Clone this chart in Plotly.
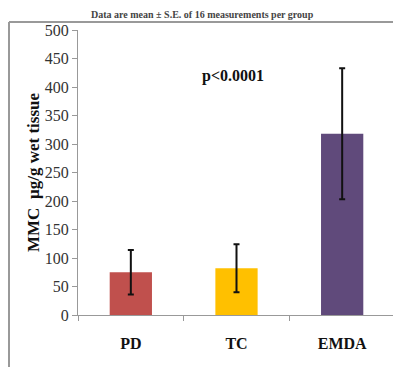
import plotly.graph_objects as go

categories = ["PD", "TC", "EMDA"]
means = [75, 82, 318]
errors = [39, 42, 115]
colors = ["#C0504D", "#FFC000", "#604A7B"]
y_ticks = [0, 50, 100, 150, 200, 250, 300, 350, 400, 450, 500]

serif = "Liberation Serif, Times New Roman, serif"

fig = go.Figure(go.Bar(
    x=categories, y=means, width=0.4,
    marker=dict(color=colors, line=dict(width=0)),
    error_y=dict(type="data", array=errors, visible=True,
                 color="#111111", thickness=2, width=3),
))

# page body has an 8px margin, so the figure is sized to the visible area
fig.update_layout(
    width=393, height=359,
    margin=dict(l=70, r=6, t=22, b=52),
    paper_bgcolor="white", plot_bgcolor="white",
    showlegend=False,
    font=dict(family=serif, color="#222222"),
)
fig.update_yaxes(
    range=[0, 500], tickvals=y_ticks, showgrid=False,
    showline=True, linecolor="#999999", linewidth=1,
    ticks="outside", ticklen=5, tickcolor="#999999",
    tickfont=dict(family=serif, size=16, color="#333333"),
    title=dict(text="<b>MMC  µg/g wet tissue</b>",
               font=dict(family=serif, size=17, color="#111111"), standoff=0),
    zeroline=False,
)
fig.update_xaxes(
    showgrid=False, showline=True, linecolor="#999999", linewidth=1,
    ticks="outside", tickson="boundaries", ticklen=5, tickcolor="#999999",
    tickfont=dict(family=serif, size=16, color="#111111"),
    tickprefix="<b>", ticksuffix="</b>", ticklabelstandoff=14,
)
fig.add_annotation(x=0.97, y=420, xref="x", yref="y", text="<b>p<0.0001</b>",
                   showarrow=False, font=dict(family=serif, size=16, color="#111111"))
fig.add_annotation(x=0.394, y=(307 - 6) / 285, xref="paper", yref="paper",
                   text="<b>Data are mean ± S.E. of 16 measurements per group</b>",
                   showarrow=False, yanchor="middle",
                   font=dict(family=serif, size=10, color="#444444"))
# frame lines
top = (307 - 14) / 285
left = (1 - 70) / 317
fig.add_shape(type="line", xref="paper", yref="paper",
              x0=left, x1=1.05, y0=top, y1=top,
              line=dict(color="#999999", width=2))
fig.add_shape(type="line", xref="paper", yref="paper",
              x0=left, x1=left, y0=-0.3, y1=top,
              line=dict(color="#999999", width=2))

fig.write_html("out.html")
